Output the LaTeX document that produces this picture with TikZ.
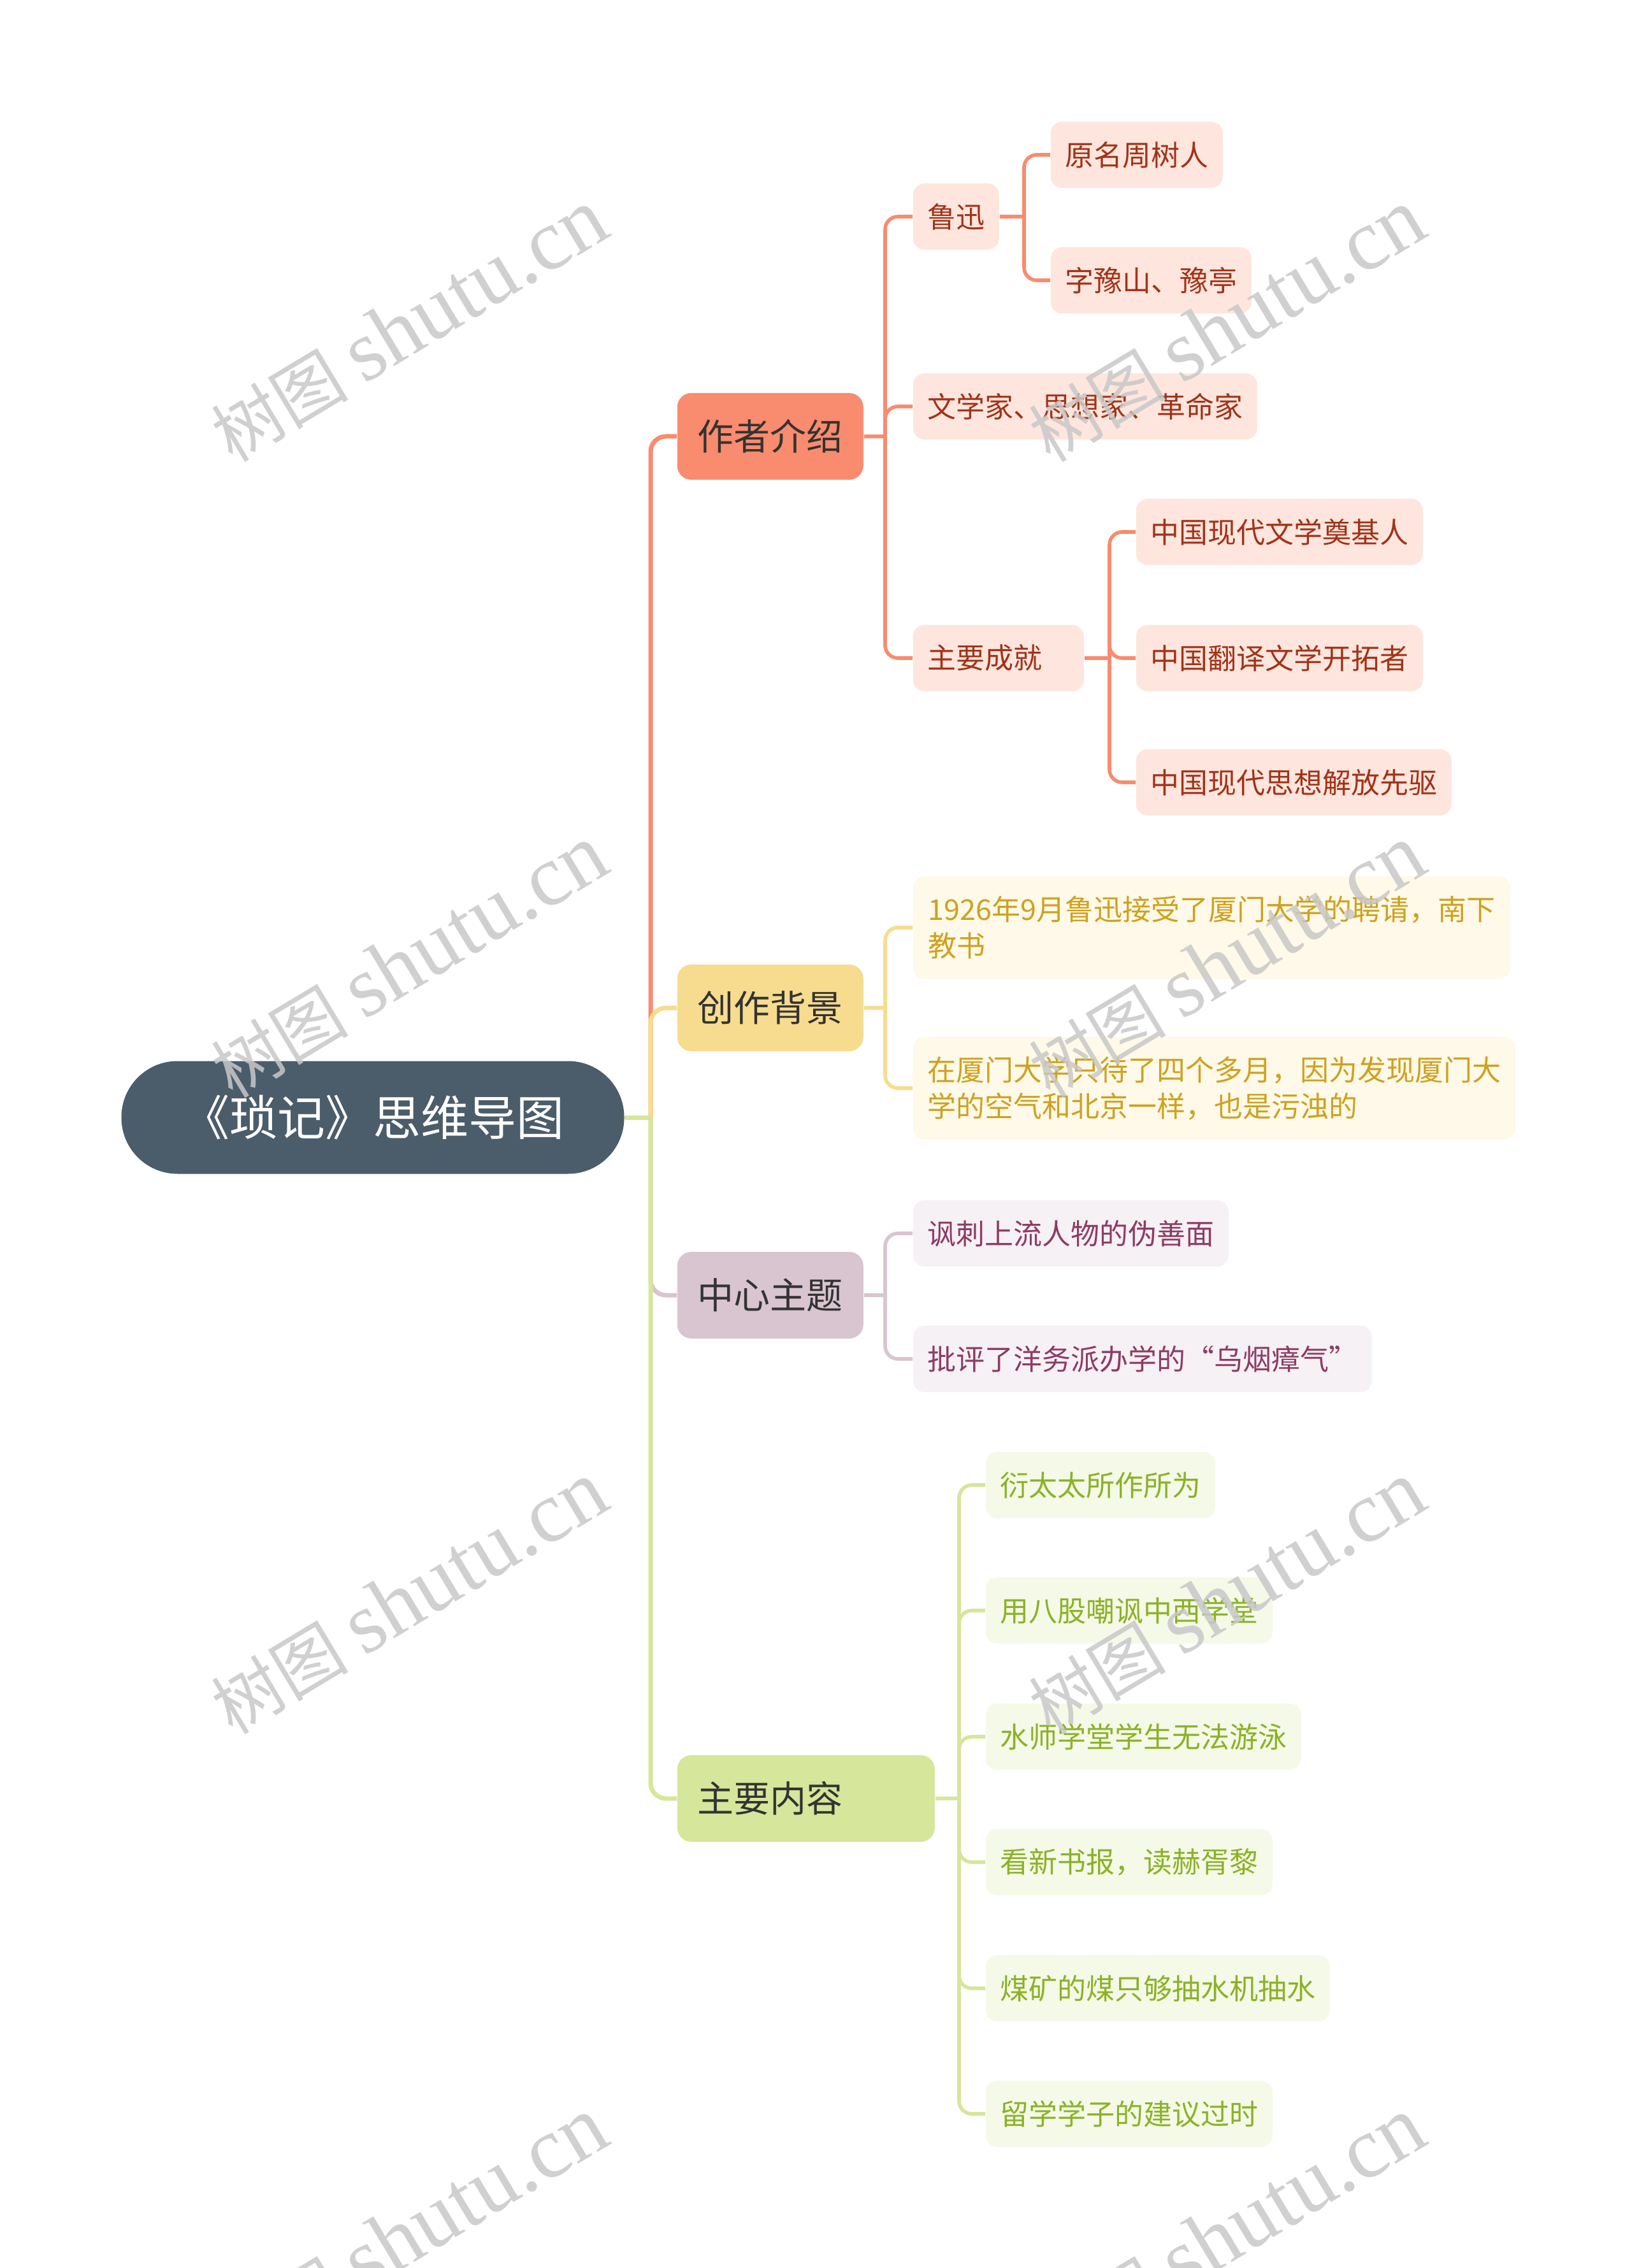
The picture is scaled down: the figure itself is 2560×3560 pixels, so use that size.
\documentclass[tikz,border=0pt]{standalone}
\usepackage{fontspec}
\setmainfont{Noto Sans CJK SC}
\newfontfamily\wmlatin{Liberation Serif}
\usetikzlibrary{calc}
\definecolor{rootC}{HTML}{4B5C6B}
\definecolor{lonetext}{HTML}{333333}
\definecolor{salD}{HTML}{F98B6E}
\definecolor{salL}{HTML}{FEE6DE}
\definecolor{salT}{HTML}{A33218}
\definecolor{yelD}{HTML}{F7DC8F}
\definecolor{yelL}{HTML}{FEF9E8}
\definecolor{yelT}{HTML}{CFA11E}
\definecolor{pinD}{HTML}{D8C5CF}
\definecolor{pinL}{HTML}{F6F1F4}
\definecolor{pinT}{HTML}{8E3B65}
\definecolor{grnD}{HTML}{D6E69A}
\definecolor{grnL}{HTML}{F5F9E8}
\definecolor{grnT}{HTML}{8BB225}
\definecolor{wmC}{HTML}{C8C8C8}
\tikzset{
  rootbox/.style={rectangle, rounded corners=22pt, fill=rootC, text=white,
    minimum width=197.25pt, minimum height=44.25pt, inner sep=0pt,
    font=\fontsize{18.75pt}{22pt}\selectfont},
  lonebox/.style={rectangle, rounded corners=5.5pt, minimum height=34pt,
    inner xsep=8pt, inner ysep=0pt, anchor=west, text=lonetext,
    font=\fontsize{14.25pt}{17pt}\selectfont},
  ltwobox/.style={rectangle, rounded corners=4.5pt, minimum height=26pt,
    inner xsep=5.625pt, inner ysep=0pt, anchor=west,
    font=\fontsize{11.25pt}{14.25pt}\selectfont},
  salbox/.style={ltwobox, fill=salL, text=salT},
  yelbox/.style={ltwobox, fill=yelL, text=yelT},
  pinbox/.style={ltwobox, fill=pinL, text=pinT},
  grnbox/.style={ltwobox, fill=grnL, text=grnT},
  cone/.style={line width=1.75pt, rounded corners=6pt},
  ctwo/.style={line width=1.4pt, rounded corners=5pt},
  wmark/.style={rotate=31, text=wmC, opacity=0.85, inner sep=0pt}
}
\begin{document}
\begin{tikzpicture}[x=0.25pt, y=-0.25pt]
\useasboundingbox (0,0) rectangle (2560,3560);
\clip (0,0) rectangle (2560,3560);
\fill[white] (0,0) rectangle (2560,3560);

% root
\node[rootbox] (root) at (585,1754) {《琐记》思维导图};

% level 1
\node[lonebox, fill=salD] (zz) at (1062,685) {作者介绍};
\node[lonebox, fill=yelD] (cz) at (1062,1582) {创作背景};
\node[lonebox, fill=pinD] (zx) at (1062,2033) {中心主题};
\node[lonebox, fill=grnD, text width=85pt, align=left] (zy) at (1062,2823) {主要内容};

% author branch
\node[salbox] (lx) at (1432,340) {鲁迅};
\node[salbox] (wx) at (1432,638) {文学家、思想家、革命家};
\node[salbox, text width=55.75pt, align=left] (cj) at (1432,1033) {主要成就};
\node[salbox] (ym) at (1648,243) {原名周树人};
\node[salbox] (zi) at (1648,440) {字豫山、豫亭};
\node[salbox] (cja) at (1782,835) {中国现代文学奠基人};
\node[salbox] (cjb) at (1782,1033) {中国翻译文学开拓者};
\node[salbox] (cjc) at (1782,1228) {中国现代思想解放先驱};

% background branch
\node[yelbox, minimum height=40.25pt, minimum width=234.25pt, align=left] (bga) at (1432,1456)
  {1926年9月鲁迅接受了厦门大学的聘请，南下\\教书};
\node[yelbox, minimum height=40.25pt, minimum width=234.25pt, align=left] (bgb) at (1432,1708)
  {在厦门大学只待了四个多月，因为发现厦门大\\学的空气和北京一样，也是污浊的};

% theme branch
\node[pinbox] (tha) at (1432,1936) {讽刺上流人物的伪善面};
\node[pinbox] (thb) at (1432,2133) {批评了洋务派办学的“乌烟瘴气”};

% content branch
\node[grnbox] (ca) at (1546,2331) {衍太太所作所为};
\node[grnbox] (cb) at (1546,2528) {用八股嘲讽中西学堂};
\node[grnbox] (cc) at (1546,2726) {水师学堂学生无法游泳};
\node[grnbox] (cd) at (1546,2923) {看新书报，读赫胥黎};
\node[grnbox] (ce) at (1546,3121) {煤矿的煤只够抽水机抽水};
\node[grnbox] (cf) at (1546,3318) {留学学子的建议过时};

% level-1 connectors
\coordinate (j0) at (1021,1754);
\draw[cone, salD] (j0) -- (j0 |- zz.west) -- (zz.west);
\draw[cone, yelD] (j0) -- (j0 |- cz.west) -- (cz.west);
\draw[cone, pinD] (j0) -- (j0 |- zx.west) -- (zx.west);
\draw[cone, grnD] (j0) -- (j0 |- zy.west) -- (zy.west);
\draw[cone, grnD] (root.east) -- (j0);

% author connectors
\coordinate (sa) at (1389,685);
\draw[ctwo, salD] (zz.east) -- (sa);
\foreach \n in {lx,wx,cj} \draw[ctwo, salD] (sa) -- (sa |- \n.west) -- (\n.west);
\coordinate (sb) at (1607,340);
\draw[ctwo, salD] (lx.east) -- (sb);
\foreach \n in {ym,zi} \draw[ctwo, salD] (sb) -- (sb |- \n.west) -- (\n.west);
\coordinate (sc) at (1741,1033);
\draw[ctwo, salD] (cj.east) -- (sc);
\foreach \n in {cja,cjb,cjc} \draw[ctwo, salD] (sc) -- (sc |- \n.west) -- (\n.west);

% background connectors
\coordinate (sd) at (1389,1582);
\draw[ctwo, yelD] (cz.east) -- (sd);
\foreach \n in {bga,bgb} \draw[ctwo, yelD] (sd) -- (sd |- \n.west) -- (\n.west);

% theme connectors
\coordinate (se) at (1389,2033);
\draw[ctwo, pinD] (zx.east) -- (se);
\foreach \n in {tha,thb} \draw[ctwo, pinD] (se) -- (se |- \n.west) -- (\n.west);

% content connectors
\coordinate (sf) at (1505,2823);
\draw[ctwo, grnD] (zy.east) -- (sf);
\foreach \n in {ca,cb,cc,cd,ce,cf} \draw[ctwo, grnD] (sf) -- (sf |- \n.west) -- (\n.west);

% watermarks
\foreach \wx in {642,1925} {
  \foreach \wy in {511,1509,2508,3506} {
    \node[wmark] (wm\wx\wy) at (\wx,\wy) {\fontsize{27pt}{30pt}\selectfont 树图 {\wmlatin\fontsize{34pt}{36pt}\selectfont shutu.cn}};
  }
}
\end{tikzpicture}
\end{document}
